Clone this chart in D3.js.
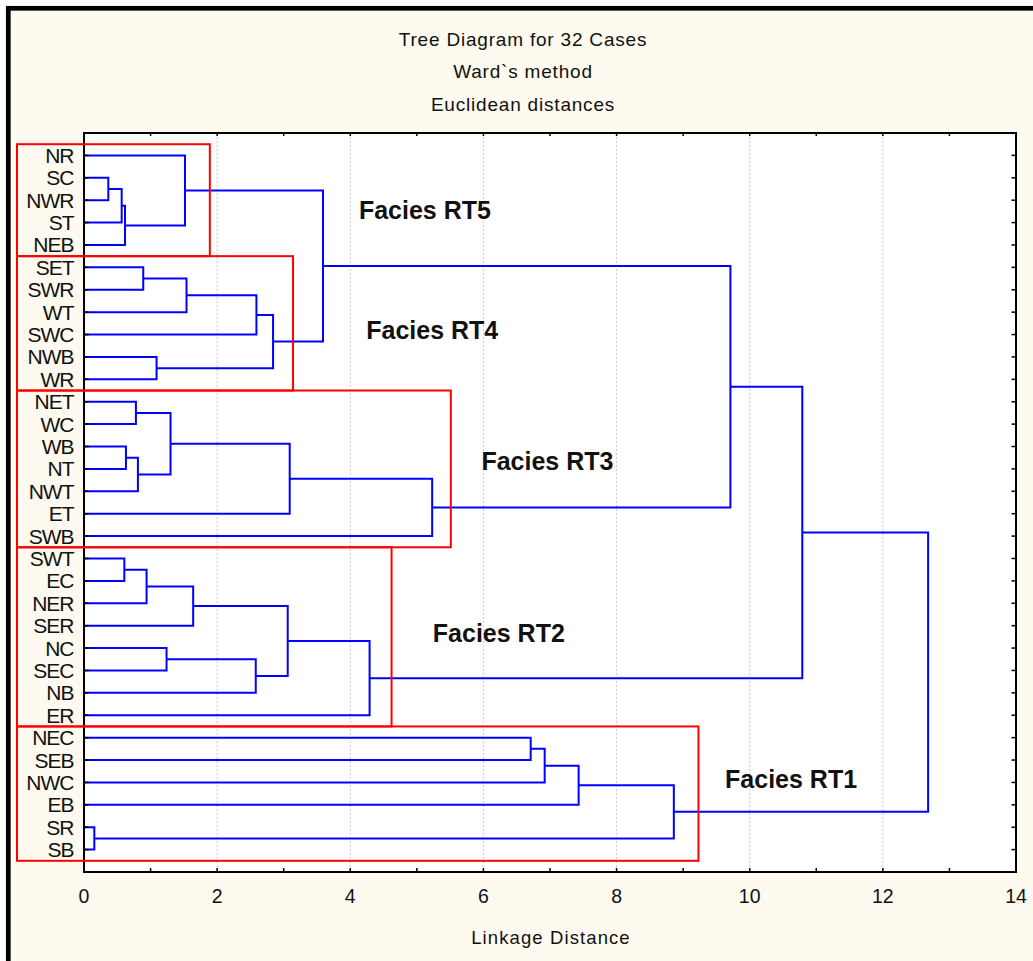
<!DOCTYPE html>
<html>
<head>
<meta charset="utf-8">
<script src="https://cdn.jsdelivr.net/npm/d3@7"></script>
<style>
  html, body { margin: 0; padding: 0; background: #ffffff; }
  svg { display: block; }
  text { font-family: "Liberation Sans", Arial, sans-serif; }
</style>
</head>
<body>
<svg id="chart" width="1033" height="961"></svg>
<script>
// ---------- data ----------
const titleLines = ["Tree Diagram for 32 Cases", "Ward`s method", "Euclidean distances"];
const axisTitle = "Linkage Distance";
const leaves = ["NR","SC","NWR","ST","NEB","SET","SWR","WT","SWC","NWB","WR",
                "NET","WC","WB","NT","NWT","ET","SWB",
                "SWT","EC","NER","SER","NC","SEC","NB","ER",
                "NEC","SEB","NWC","EB","SR","SB"];
const tickValues = [0, 2, 4, 6, 8, 10, 12, 14];
// merges: [childA, childB, linkage distance]; "m#" refers to an earlier merge
const merges = [
  ["SC","NWR",0.365], ["m0","ST",0.566], ["m1","NEB",0.616], ["NR","m2",1.517],
  ["SET","SWR",0.89], ["m4","WT",1.54], ["m5","SWC",2.59], ["NWB","WR",1.09],
  ["m6","m7",2.84], ["m3","m8",3.59],
  ["NET","WC",0.78], ["WB","NT",0.63], ["m11","NWT",0.81], ["m10","m12",1.30],
  ["m13","ET",3.09], ["m14","SWB",5.23], ["m9","m15",9.71],
  ["SWT","EC",0.606], ["m17","NER",0.94], ["m18","SER",1.64], ["NC","SEC",1.24],
  ["m20","NB",2.58], ["m19","m21",3.06], ["m22","ER",4.29], ["m16","m23",10.79],
  ["NEC","SEB",6.71], ["m25","NWC",6.92], ["m26","EB",7.43], ["SR","SB",0.155],
  ["m27","m28",8.86], ["m24","m29",12.68]
];
const faciesNames = ["Facies RT5","Facies RT4","Facies RT3","Facies RT2","Facies RT1"];
const faciesFirst = ["NR","SET","NET","SWT","NEC"];
const faciesLast  = ["NEB","WR","SWB","ER","SB"];
const faciesReach = [1.89, 3.14, 5.51, 4.62, 9.23];

// ---------- layout ----------
const W = 1033, H = 961;
const plot = { left: 84, right: 1016, top: 133, bottom: 872 };
const labelPos = [ {x: 4.13, i: 2.84}, {x: 4.24, i: 8.19}, {x: 5.97, i: 14.04},
                   {x: 5.24, i: 21.71}, {x: 9.63, i: 28.25} ];

const svg = d3.select("#chart");
svg.append("rect").attr("x", 0).attr("y", 0).attr("width", W).attr("height", H).attr("fill", "#ffffff");
svg.append("rect").attr("x", 8.3).attr("y", 8.3).attr("width", W + 20).attr("height", H + 20)
   .attr("fill", "#FEFAEF").attr("stroke", "#000").attr("stroke-width", 4.7);

const x = d3.scaleLinear().domain([0, 14]).range([plot.left, plot.right]);
const y = d3.scalePoint().domain(leaves).range([plot.top, plot.bottom]).padding(1);
const step = y.step();

// plot background
svg.append("rect").attr("x", plot.left).attr("y", plot.top)
   .attr("width", plot.right - plot.left).attr("height", plot.bottom - plot.top)
   .attr("fill", "#ffffff");

// grid
svg.append("g").selectAll("line").data(tickValues.filter(v => v > 0 && v < 14)).join("line")
   .attr("x1", d => x(d)).attr("x2", d => x(d))
   .attr("y1", plot.top).attr("y2", plot.bottom)
   .attr("stroke", "#c8c8c8").attr("stroke-width", 1).attr("stroke-dasharray", "2,2");

// titles
svg.append("g").selectAll("text").data(titleLines).join("text")
   .attr("x", 523).attr("y", (d, i) => 46 + i * 32.3)
   .attr("text-anchor", "middle").attr("font-size", 19).attr("letter-spacing", 0.8)
   .attr("fill", "#111").text(d => d);

// dendrogram
const nodeY = {}, nodeH = {};
leaves.forEach(l => { nodeY[l] = y(l); nodeH[l] = 0; });
const links = merges.map((m, k) => {
  const [a, b, h] = m;
  const ya = nodeY[a], yb = nodeY[b];
  nodeY["m" + k] = (ya + yb) / 2; nodeH["m" + k] = h;
  return { a, b, h, ya, yb, ha: nodeH[a], hb: nodeH[b] };
});
svg.append("g").selectAll("path").data(links).join("path")
   .attr("d", d => `M${x(d.ha)},${d.ya}H${x(d.h)}V${d.yb}H${x(d.hb)}`)
   .attr("fill", "none").attr("stroke", "#0000ff").attr("stroke-width", 2);

// axes frame
const ax = svg.append("g");
ax.append("rect").attr("x", plot.left).attr("y", plot.top)
  .attr("width", plot.right - plot.left).attr("height", plot.bottom - plot.top)
  .attr("fill", "none").attr("stroke", "#000").attr("stroke-width", 2);
const minor = d3.range(0, 15, 1);
ax.selectAll(".tb").data(minor).join("line")
  .attr("x1", d => x(d)).attr("x2", d => x(d)).attr("y1", plot.bottom).attr("y2", plot.bottom - 4)
  .attr("stroke", "#000").attr("stroke-width", 1.5);
ax.selectAll(".tt").data(minor).join("line")
  .attr("x1", d => x(d)).attr("x2", d => x(d)).attr("y1", plot.top).attr("y2", plot.top + 3)
  .attr("stroke", "#000").attr("stroke-width", 1.5);
ax.selectAll(".tl").data(leaves).join("line")
  .attr("x1", plot.left).attr("x2", plot.left + 4.5).attr("y1", d => y(d)).attr("y2", d => y(d))
  .attr("stroke", "#000").attr("stroke-width", 1.5);
ax.selectAll(".tr").data(leaves).join("line")
  .attr("x1", plot.right).attr("x2", plot.right - 4.5).attr("y1", d => y(d)).attr("y2", d => y(d))
  .attr("stroke", "#000").attr("stroke-width", 1.5);

// tick labels
ax.selectAll(".xl").data(tickValues).join("text")
  .attr("x", d => x(d)).attr("y", 903).attr("text-anchor", "middle")
  .attr("font-size", 19.5).attr("fill", "#111").text(d => d);
ax.selectAll(".yl").data(leaves).join("text")
  .attr("x", 73.5).attr("y", d => y(d) + 7.5).attr("text-anchor", "end")
  .attr("font-size", 21).attr("letter-spacing", -1).attr("fill", "#111").text(d => d);
ax.append("text").attr("x", 551).attr("y", 944).attr("text-anchor", "middle")
  .attr("font-size", 18.5).attr("letter-spacing", 1.1).attr("fill", "#111").text(axisTitle);

// facies boxes
const boxes = svg.append("g");
faciesNames.forEach((name, i) => {
  const y0 = y(faciesFirst[i]) - step / 2, y1 = y(faciesLast[i]) + step / 2;
  boxes.append("rect").attr("x", 17).attr("y", y0)
    .attr("width", x(faciesReach[i]) - 17).attr("height", y1 - y0)
    .attr("fill", "none").attr("stroke", "#ff0000").attr("stroke-width", 2);
  boxes.append("text").attr("x", x(labelPos[i].x))
    .attr("y", plot.top + step + labelPos[i].i * step)
    .attr("font-size", 25).attr("font-weight", "bold").attr("fill", "#111").text(name);
});
</script>
</body>
</html>
